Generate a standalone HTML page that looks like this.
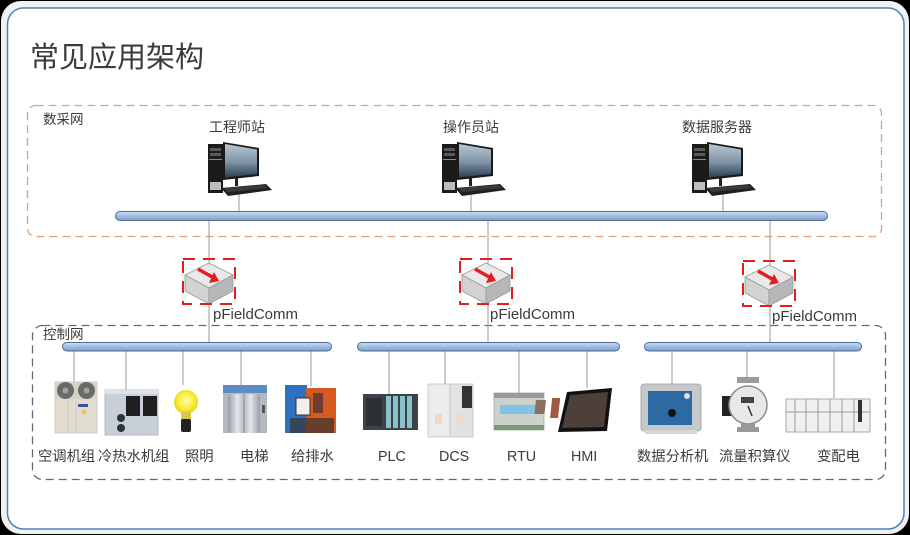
<!DOCTYPE html>
<html>
<head>
<meta charset="utf-8">
<style>
  html,body{margin:0;padding:0;background:#000;}
  svg{display:block;}
  text{font-family:"Liberation Sans","Noto Sans CJK SC",sans-serif;fill:#3b3b3b;}
</style>
</head>
<body>
<svg width="910" height="535" viewBox="0 0 910 535" xmlns="http://www.w3.org/2000/svg">
  <defs>
    <linearGradient id="bus" x1="0" y1="0" x2="0" y2="1">
      <stop offset="0" stop-color="#cfe0f2"/>
      <stop offset="0.5" stop-color="#9fbde0"/>
      <stop offset="1" stop-color="#7f9fc8"/>
    </linearGradient>
    <linearGradient id="scr" x1="0" y1="0" x2="0" y2="1">
      <stop offset="0" stop-color="#b7c7d3"/>
      <stop offset="0.55" stop-color="#7d93a6"/>
      <stop offset="1" stop-color="#2c3e4e"/>
    </linearGradient>
    <linearGradient id="silver" x1="0" y1="0" x2="1" y2="0">
      <stop offset="0" stop-color="#9aa0a8"/>
      <stop offset="0.3" stop-color="#e3e6ea"/>
      <stop offset="0.5" stop-color="#b4b9c0"/>
      <stop offset="0.7" stop-color="#e3e6ea"/>
      <stop offset="1" stop-color="#9aa0a8"/>
    </linearGradient>
    <radialGradient id="bulb" cx="0.5" cy="0.45" r="0.5">
      <stop offset="0" stop-color="#fffbb0"/>
      <stop offset="0.6" stop-color="#fbef40"/>
      <stop offset="1" stop-color="#e8d820"/>
    </radialGradient>
    <g id="pc">
      <rect x="0" y="0" width="15" height="49" fill="#1b1b1b"/>
      <rect x="2" y="4" width="11" height="3" fill="#5a5a5a"/>
      <rect x="2" y="9" width="11" height="3" fill="#5a5a5a"/>
      <rect x="1" y="15" width="13" height="1" fill="#8a8a8a"/>
      <rect x="2" y="38" width="11" height="8" fill="#bdbdbd"/>
      <polygon points="15,-2 51,4 51,32 15,36" fill="#1a1a1a"/>
      <polygon points="17,0 49,5.5 49,30 17,33.5" fill="url(#scr)"/>
      <rect x="27" y="34" width="3" height="8" fill="#222"/>
      <polygon points="13,44 58,40 64,46 20,52" fill="#202020"/>
      <polygon points="16,44 56,41 60,44 20,48" fill="#3a3a3a"/>
    </g>
    <g id="pfc">
      <!-- box centered at 0, top at 0 -->
      <polygon points="0,2 24,14 0,27 -24,14" fill="#e9e9e9" stroke="#9a9a9a" stroke-width="0.8"/>
      <polygon points="-24,14 0,27 0,43 -24,30" fill="#d2d2d2" stroke="#9a9a9a" stroke-width="0.8"/>
      <polygon points="24,14 0,27 0,43 24,30" fill="#b7b7b7" stroke="#9a9a9a" stroke-width="0.8"/>
      <line x1="-11" y1="8" x2="5" y2="17" stroke="#e02020" stroke-width="3.5"/>
      <polygon points="0,22 10,20 5,11" fill="#e02020"/>
      <rect x="-26" y="-2" width="52" height="45" fill="none" stroke="#e02020" stroke-width="2" stroke-dasharray="12 8"/>
    </g>
  </defs>

  <!-- frame -->
  <rect x="1" y="1" width="908" height="533" rx="20" fill="#f1f1f1"/>
  <rect x="7.5" y="8" width="896.5" height="521" rx="16" fill="#ffffff" stroke="#4d82b8" stroke-width="1.5"/>

  <!-- title -->
  <text x="30" y="67" font-size="29">常见应用架构</text>

  <!-- data acquisition network box -->
  <rect x="27.5" y="105.5" width="854" height="131" rx="8" fill="none" stroke="#dba27a" stroke-width="1.3" stroke-dasharray="8 5"/>
  <text x="43" y="124" font-size="13.5">数采网</text>

  <!-- control network box -->
  <rect x="32.5" y="325.5" width="853" height="154" rx="10" fill="none" stroke="#5f6b7d" stroke-width="1.3" stroke-dasharray="8 5"/>
  <text x="43" y="339" font-size="13.5">控制网</text>

  <!-- station labels -->
  <text x="237" y="132" font-size="14" text-anchor="middle">工程师站</text>
  <text x="471" y="132" font-size="14" text-anchor="middle">操作员站</text>
  <text x="717" y="132" font-size="14" text-anchor="middle">数据服务器</text>

  <!-- connector lines -->
  <g stroke="#9a9a9a" stroke-width="1">
    <line x1="239" y1="190" x2="239" y2="212"/>
    <line x1="471" y1="190" x2="471" y2="212"/>
    <line x1="723" y1="190" x2="723" y2="212"/>
    <line x1="209" y1="220" x2="209" y2="343"/>
    <line x1="488" y1="220" x2="488" y2="343"/>
    <line x1="770" y1="220" x2="770" y2="343"/>
    <line x1="74" y1="350" x2="74" y2="383"/>
    <line x1="126" y1="350" x2="126" y2="390"/>
    <line x1="183" y1="350" x2="183" y2="385"/>
    <line x1="241" y1="350" x2="241" y2="386"/>
    <line x1="311" y1="350" x2="311" y2="386"/>
    <line x1="389" y1="350" x2="389" y2="394"/>
    <line x1="445" y1="350" x2="445" y2="384"/>
    <line x1="519" y1="350" x2="519" y2="393"/>
    <line x1="587" y1="350" x2="587" y2="388"/>
    <line x1="672" y1="350" x2="672" y2="384"/>
    <line x1="747" y1="350" x2="747" y2="378"/>
    <line x1="834" y1="350" x2="834" y2="398"/>
  </g>

  <!-- computers -->
  <use href="#pc" x="208" y="144"/>
  <use href="#pc" x="442" y="144"/>
  <use href="#pc" x="692" y="144"/>

  <!-- buses -->
  <rect x="115.5" y="211.5" width="712" height="9" rx="4.5" fill="url(#bus)" stroke="#4e6d93" stroke-width="1"/>
  <rect x="62.5" y="342.5" width="269" height="8.5" rx="4.2" fill="url(#bus)" stroke="#4e6d93" stroke-width="1"/>
  <rect x="357.5" y="342.5" width="262" height="8.5" rx="4.2" fill="url(#bus)" stroke="#4e6d93" stroke-width="1"/>
  <rect x="644.5" y="342.5" width="217" height="8.5" rx="4.2" fill="url(#bus)" stroke="#4e6d93" stroke-width="1"/>

  <!-- pFieldComm gateways -->
  <use href="#pfc" x="209" y="261"/>
  <use href="#pfc" x="486" y="261"/>
  <use href="#pfc" x="769" y="263"/>
  <text x="213" y="319" font-size="15">pFieldComm</text>
  <text x="490" y="319" font-size="15">pFieldComm</text>
  <text x="772" y="321" font-size="15">pFieldComm</text>

  <!-- devices -->
  <!-- AC unit -->
  <rect x="55" y="382" width="42" height="51" fill="#e0dccf" stroke="#c9c4b6" stroke-width="0.8"/>
  <rect x="55" y="382" width="42" height="17" fill="#d6d2c6"/>
  <circle cx="65.5" cy="390.5" r="8.5" fill="#6a6a6a"/>
  <circle cx="65.5" cy="390.5" r="3" fill="#a0a0a0"/>
  <circle cx="86.5" cy="390.5" r="8.5" fill="#6a6a6a"/>
  <circle cx="86.5" cy="390.5" r="3" fill="#a0a0a0"/>
  <rect x="78" y="404" width="10" height="3" fill="#3a55a0"/>
  <circle cx="84" cy="412" r="2" fill="#e8c820"/>
  <line x1="68" y1="400" x2="68" y2="432" stroke="#cbc6b8" stroke-width="0.8"/>
  <line x1="76" y1="400" x2="76" y2="432" stroke="#cbc6b8" stroke-width="0.8"/>

  <!-- chiller -->
  <rect x="105" y="390" width="53" height="45" fill="#c9cfd6" stroke="#a9afb6" stroke-width="0.8"/>
  <rect x="105" y="390" width="53" height="4" fill="#dfe3e7"/>
  <rect x="126" y="396" width="14" height="20" fill="#1f1f1f"/>
  <rect x="143" y="396" width="14" height="20" fill="#1f1f1f"/>
  <circle cx="121" cy="418" r="4" fill="#2a3440"/>
  <circle cx="121" cy="428" r="4" fill="#2a3440"/>

  <!-- bulb -->
  <circle cx="186" cy="402" r="12" fill="url(#bulb)"/>
  <rect x="181" y="412" width="10" height="8" fill="#d8c848"/>
  <rect x="181" y="419" width="10" height="13" rx="2" fill="#222"/>

  <!-- elevator -->
  <rect x="223" y="385" width="44" height="48" fill="#b4b9c1"/>
  <rect x="223" y="385" width="44" height="8" fill="#5b8cc4"/>
  <rect x="228" y="394" width="32" height="39" fill="url(#silver)"/>
  <line x1="244" y1="394" x2="244" y2="433" stroke="#8a9098" stroke-width="1"/>
  <rect x="262" y="405" width="3" height="8" fill="#555"/>

  <!-- water supply -->
  <rect x="285" y="385" width="22" height="48" fill="#2d72c2"/>
  <rect x="306" y="388" width="30" height="45" fill="#d65a22"/>
  <rect x="296" y="398" width="14" height="17" fill="#f0f0f0" stroke="#333" stroke-width="1"/>
  <rect x="290" y="418" width="44" height="15" fill="#3a3030" opacity="0.7"/>
  <rect x="313" y="393" width="10" height="20" fill="#2a2a3a" opacity="0.6"/>

  <!-- PLC -->
  <rect x="363" y="394" width="55" height="36" fill="#3c4248"/>
  <rect x="366" y="398" width="16" height="28" fill="#2c3035"/>
  <rect x="386" y="396" width="5" height="32" fill="#86c3cc"/>
  <rect x="393" y="396" width="5" height="32" fill="#86c3cc"/>
  <rect x="400" y="396" width="5" height="32" fill="#86c3cc"/>
  <rect x="407" y="396" width="5" height="32" fill="#86c3cc"/>

  <!-- DCS -->
  <rect x="428" y="384" width="22" height="53" fill="#ececec" stroke="#c4c4c4" stroke-width="0.8"/>
  <rect x="450" y="384" width="23" height="53" fill="#e2e2e2" stroke="#c4c4c4" stroke-width="0.8"/>
  <rect x="462" y="386" width="10" height="22" fill="#333"/>
  <rect x="435" y="414" width="7" height="10" fill="#f1d8c8"/>
  <rect x="456" y="414" width="7" height="10" fill="#f1d8c8"/>

  <!-- RTU -->
  <rect x="494" y="393" width="50" height="37" fill="#cdd1cd" stroke="#a8aca8" stroke-width="0.8"/>
  <rect x="494" y="393" width="50" height="5" fill="#9a9c9a"/>
  <rect x="500" y="405" width="38" height="9" fill="#7fc4e0"/>
  <rect x="494" y="425" width="50" height="5" fill="#7a9a78"/>

  <!-- HMI -->
  <polygon points="567,392 612,388 607,431 558,432" fill="#111"/>
  <polygon points="570,395 608,392 604,427 562,428" fill="#4d4038"/>
  <rect x="578" y="400" width="10" height="14" fill="#8a7060" transform="skewX(-6)"/>
  <rect x="594" y="398" width="8" height="20" fill="#a05a40" transform="skewX(-6)"/>

  <!-- data analyzer -->
  <rect x="641" y="384" width="60" height="47" rx="3" fill="#c6c8ca" stroke="#9a9ca0" stroke-width="0.8"/>
  <rect x="648" y="391" width="44" height="34" fill="#2b6aa2"/>
  <circle cx="672" cy="413" r="4" fill="#111"/>
  <circle cx="687" cy="396" r="3" fill="#e0e0e0"/>
  <rect x="645" y="430" width="52" height="4" fill="#d8d8d8"/>

  <!-- flowmeter -->
  <rect x="737" y="377" width="22" height="6" fill="#9a9a9a"/>
  <rect x="722" y="396" width="10" height="20" fill="#222"/>
  <circle cx="748" cy="405" r="19" fill="#e8e8e8" stroke="#8a8a8a" stroke-width="1.5"/>
  <rect x="741" y="397" width="13" height="6" fill="#444"/>
  <line x1="748" y1="406" x2="752" y2="416" stroke="#333" stroke-width="1.5"/>
  <rect x="741" y="424" width="14" height="3" fill="#999"/>
  <rect x="737" y="427" width="22" height="5" fill="#9a9a9a"/>

  <!-- transformer / distribution -->
  <rect x="786" y="399" width="84" height="33" fill="#f0f0f0" stroke="#aaaaaa" stroke-width="1"/>
  <g stroke="#9a9a9a" stroke-width="1">
    <line x1="795" y1="399" x2="795" y2="432"/>
    <line x1="806" y1="399" x2="806" y2="432"/>
    <line x1="818" y1="399" x2="818" y2="432"/>
    <line x1="830" y1="399" x2="830" y2="432"/>
    <line x1="842" y1="399" x2="842" y2="432"/>
    <line x1="854" y1="399" x2="854" y2="432"/>
    <line x1="786" y1="412" x2="870" y2="412"/>
  </g>
  <rect x="858" y="400" width="4" height="22" fill="#333"/>

  <!-- device labels -->
  <g font-size="14.3">
    <text x="38" y="461">空调机组</text>
    <text x="98" y="461">冷热水机组</text>
    <text x="185" y="461">照明</text>
    <text x="240" y="461">电梯</text>
    <text x="291" y="461">给排水</text>
    <text x="378" y="461">PLC</text>
    <text x="439" y="461">DCS</text>
    <text x="507" y="461">RTU</text>
    <text x="571" y="461">HMI</text>
    <text x="637" y="461">数据分析机</text>
    <text x="719" y="461">流量积算仪</text>
    <text x="817" y="461">变配电</text>
  </g>
</svg>
</body>
</html>
